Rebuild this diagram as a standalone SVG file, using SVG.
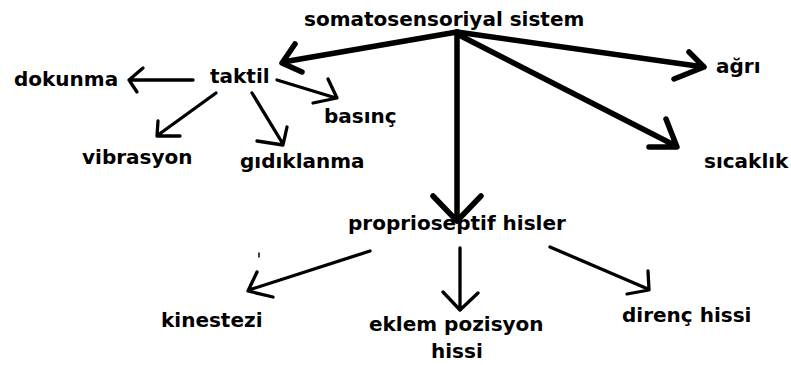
<svg xmlns="http://www.w3.org/2000/svg" width="791" height="365" viewBox="0 0 791 365">
<style>
text{font-family:"DejaVu Sans","Verdana",sans-serif;font-weight:bold;font-size:20px;fill:#000}
.thick{fill:none;stroke:#000;stroke-width:5.5;stroke-linecap:round;stroke-linejoin:round}
.thin{fill:none;stroke:#000;stroke-width:3.3;stroke-linecap:round;stroke-linejoin:round}
</style>
<rect width="791" height="365" fill="#fff"/>
<g id="connectors">
  <path class="thick" d="M457 32 L283 62 M295 44 L282 63 L302 72"/>
  <path class="thick" d="M457 32 L457 221 M433 196 L457 221 L481 196"/>
  <path class="thick" d="M457 32 L704 67 M689 52 L704 67 L674 79"/>
  <path class="thick" d="M457 34 L676 146 M666 119 L677 147 L649 147"/>
  <path class="thin" d="M193 80 L129 80 M143 68 L129 80 L137 92"/>
  <path class="thin" d="M216 93 L158 135 M158 121 L157 136 L180 136"/>
  <path class="thin" d="M252 93 L283 144 M257 141 L283 145 L287 127"/>
  <path class="thin" d="M277 80 L336 98 M328 79 L337 98 L313 103"/>
  <path class="thin" d="M370 251 L249 290 M257 272 L248 291 L273 297"/>
  <line class="thin" x1="259" y1="253" x2="259" y2="257" style="stroke-width:1.5"/>
  <path class="thin" d="M460 248 L460 309 M443 292 L460 310 L478 293"/>
  <path class="thin" d="M550 247 L648 289 M648 271 L649 290 L627 294"/>
</g>
<g id="somatosensoriyal"><text x="304" y="26">somatosensoriyal sistem</text></g>
<g id="taktil"><text x="210" y="83">taktil</text></g>
<g id="dokunma"><text x="14" y="86">dokunma</text></g>
<g id="basinc"><text x="324" y="123">basınç</text></g>
<g id="vibrasyon"><text x="82" y="164">vibrasyon</text></g>
<g id="gidiklanma"><text x="240" y="168">gıdıklanma</text></g>
<g id="agri"><text x="716" y="73">ağrı</text></g>
<g id="sicaklik"><text x="704" y="168">sıcaklık</text></g>
<g id="proprioseptif"><text x="348" y="230">proprioseptif hisler</text></g>
<g id="kinestezi"><text x="161" y="327">kinestezi</text></g>
<g id="eklem"><text x="369" y="331">eklem pozisyon</text><text x="431" y="358">hissi</text></g>
<g id="direnc"><text x="622" y="322">direnç hissi</text></g>
</svg>
